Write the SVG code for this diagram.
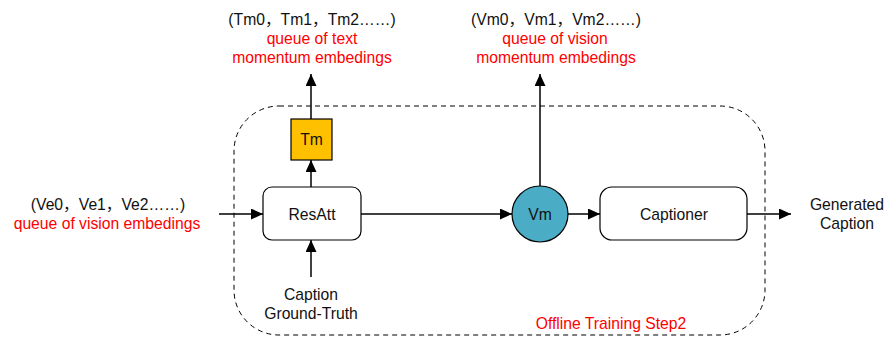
<svg xmlns="http://www.w3.org/2000/svg" width="889" height="338" viewBox="0 0 889 338">
  <style>
    text { font-family: "Liberation Sans", "Noto Sans CJK SC", Arial, sans-serif; font-size: 15.7px; text-anchor: middle; dominant-baseline: central; fill: #111; }
    .red { fill: #ff0000; }
    .edge { stroke: #000; stroke-width: 1.5; fill: none; marker-end: url(#arrow); }
    .box { fill: #fff; stroke: #000; stroke-width: 1.2; }
  </style>
  <defs>
    <marker id="arrow" viewBox="0 0 12 11" refX="12" refY="5.5" markerWidth="12" markerHeight="11" markerUnits="userSpaceOnUse" orient="auto">
      <path d="M0,0 L12,5.5 L0,11 z" fill="#000"/>
    </marker>
  </defs>

  <!-- boundary of the offline training stage -->
  <g id="stage">
    <rect x="234" y="106" width="531" height="229" rx="45" ry="45" fill="none" stroke="#000" stroke-width="1" stroke-dasharray="5,4"/>
    <text class="red" x="611" y="323">Offline Training Step2</text>
  </g>

  <!-- connectors -->
  <g id="connectors">
    <line class="edge" x1="219" y1="214" x2="263" y2="214"/>
    <line class="edge" x1="311" y1="277" x2="311" y2="240"/>
    <line class="edge" x1="311" y1="187" x2="311" y2="160"/>
    <line class="edge" x1="311" y1="119" x2="311" y2="74"/>
    <line class="edge" x1="361" y1="214" x2="512" y2="214"/>
    <line class="edge" x1="540" y1="186" x2="540" y2="74"/>
    <line class="edge" x1="568" y1="214" x2="600" y2="214"/>
    <line class="edge" x1="747" y1="214" x2="791" y2="214"/>
  </g>

  <!-- nodes -->
  <g id="resatt">
    <rect class="box" x="263" y="187" width="98" height="53" rx="9" ry="9"/>
    <text x="312" y="214">ResAtt</text>
  </g>
  <g id="tm">
    <rect x="291" y="119" width="41" height="41" fill="#ffc000" stroke="#000" stroke-width="1.2"/>
    <text x="311.5" y="139.5">Tm</text>
  </g>
  <g id="vm">
    <circle cx="540" cy="214" r="28" fill="#4bacc6" stroke="#000" stroke-width="1.2"/>
    <text x="540" y="214">Vm</text>
  </g>
  <g id="captioner">
    <rect class="box" x="600" y="187" width="147" height="53" rx="12" ry="12"/>
    <text x="674" y="214">Captioner</text>
  </g>

  <!-- inputs and outputs -->
  <g id="vision-queue">
    <text x="108" y="204">(Ve0，Ve1，Ve2……)</text>
    <text class="red" x="107" y="223">queue of vision embedings</text>
  </g>
  <g id="ground-truth">
    <text x="311" y="294">Caption</text>
    <text x="311" y="313">Ground-Truth</text>
  </g>
  <g id="text-momentum-queue">
    <text x="312" y="19">(Tm0，Tm1，Tm2……)</text>
    <text class="red" x="312" y="38">queue of text</text>
    <text class="red" x="312" y="57">momentum embedings</text>
  </g>
  <g id="vision-momentum-queue">
    <text x="556" y="19">(Vm0，Vm1，Vm2……)</text>
    <text class="red" x="555" y="38">queue of vision</text>
    <text class="red" x="556" y="57">momentum embedings</text>
  </g>
  <g id="generated-caption">
    <text x="847" y="204">Generated</text>
    <text x="847" y="223">Caption</text>
  </g>
</svg>
